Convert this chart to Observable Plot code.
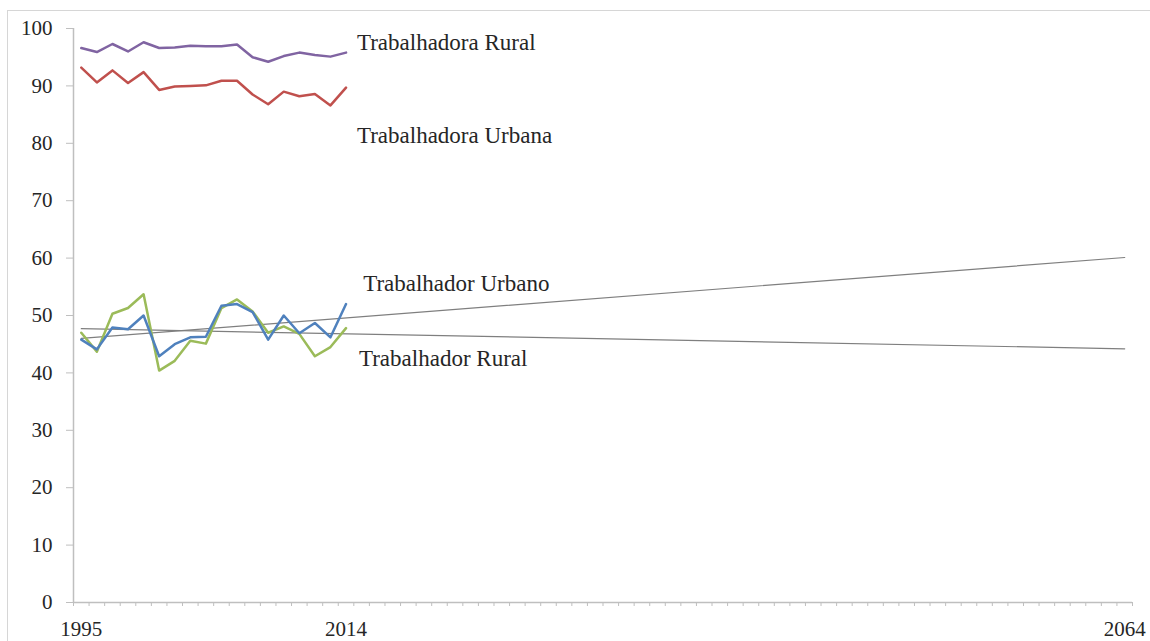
<!DOCTYPE html>
<html>
<head>
<meta charset="utf-8">
<script src="https://cdn.jsdelivr.net/npm/d3@7"></script>
<script src="https://cdn.jsdelivr.net/npm/@observablehq/plot@0.6"></script>
<style>
  html, body { margin: 0; padding: 0; background: #fff; width: 1150px; height: 641px; overflow: hidden; }
  #wrap { position: relative; width: 1150px; height: 641px; }
  #frame { position: absolute; left: 7px; top: 10px; width: 1150px; height: 641px;
           border-top: 1.5px solid #d6d6d6; border-left: 1.5px solid #d6d6d6; pointer-events: none; }
  #chart { position: absolute; left: 0; top: 0; }
</style>
</head>
<body>
<div id="wrap"><div id="chart"></div><div id="frame"></div></div>
<script>
// Survey years (PNAD, no survey in 2000 and 2010)
const surveyYears = [1995, 1996, 1997, 1998, 1999, 2001, 2002, 2003, 2004, 2005, 2006, 2007, 2008, 2009, 2011, 2012, 2013, 2014];
const projectionEnd = 2064;

// Series values (%)
const trabalhadoraRural  = [96.6, 95.9, 97.3, 96.0, 97.6, 96.6, 96.7, 97.0, 96.9, 96.9, 97.2, 95.0, 94.2, 95.2, 95.8, 95.4, 95.1, 95.8];
const trabalhadoraUrbana = [93.2, 90.6, 92.7, 90.5, 92.4, 89.3, 89.9, 90.0, 90.1, 90.9, 90.9, 88.5, 86.8, 89.0, 88.2, 88.6, 86.6, 89.7];
const trabalhadorUrbano  = [45.8, 44.1, 47.9, 47.6, 50.0, 42.9, 45.0, 46.2, 46.3, 51.7, 52.0, 50.6, 45.8, 50.0, 46.9, 48.7, 46.2, 52.0];
const trabalhadorRural   = [47.0, 43.7, 50.3, 51.3, 53.7, 40.4, 42.1, 45.6, 45.1, 51.3, 52.8, 50.7, 47.0, 48.1, 46.8, 42.9, 44.5, 47.8];

// Trend lines (start 1995, end 2064)
const trendYears   = [1995, 2064];
const trendUrbano  = [46.0, 60.1];
const trendRural   = [47.7, 44.2];

// Axis
const yTicks = [0, 10, 20, 30, 40, 50, 60, 70, 80, 90, 100];
const xTickLabels = [1995, 2014, 2064];

// Annotations
const labels = [
  {text: "Trabalhadora Rural",  year: 2014.70, value: 97.6},
  {text: "Trabalhadora Urbana", year: 2014.70, value: 81.4},
  {text: "Trabalhador Urbano",  year: 2015.10, value: 55.6},
  {text: "Trabalhador Rural",   year: 2014.83, value: 42.5}
];

// category index for a year (survey years, then yearly projection)
const lastSurvey = surveyYears[surveyYears.length - 1];
const idx = y => {
  const i = surveyYears.indexOf(y);
  if (i >= 0) return i;
  return surveyYears.length - 1 + (y - lastSurvey);
};
const nCat = idx(projectionEnd) + 1;

const toRows = (arr) => arr.map((v, i) => ({x: i, y: v}));
const trendRows = (arr) => arr.map((v, i) => ({x: idx(trendYears[i]), y: v}));

const boundaries = d3.range(nCat + 1).map(i => i - 0.5);

const font = "'Liberation Serif', 'DejaVu Serif', serif";
const axisGray = "#bfbfbf";

const chart = Plot.plot({
  width: 1150,
  height: 641,
  marginLeft: 73,
  marginRight: 18,
  marginTop: 28,
  marginBottom: 39,
  style: {fontFamily: font, fontSize: "21px", background: "transparent", color: "#262626"},
  x: {type: "linear", domain: [-0.5, nCat - 0.5]},
  y: {domain: [0, 100]},
  marks: [
    Plot.ruleX([-0.5], {y1: 0, y2: 100, stroke: axisGray, strokeWidth: 1.5}),
    Plot.ruleY([0], {x1: -0.5, x2: nCat - 0.5, stroke: axisGray, strokeWidth: 1.5}),
    Plot.axisY({ticks: yTicks, tickSize: 7, tickPadding: 14, stroke: axisGray, fill: "#262626", label: null, fontSize: 21}),
    Plot.axisX({ticks: boundaries, tickSize: 4, tickFormat: () => "", stroke: axisGray, label: null}),
    Plot.axisX({ticks: xTickLabels.map(idx), tickSize: 0, tickPadding: 19, tickFormat: i => String(xTickLabels[xTickLabels.map(idx).indexOf(i)]), fill: "#262626", label: null, fontSize: 21}),
    Plot.line(trendRows(trendUrbano), {x: "x", y: "y", stroke: "#7f7f7f", strokeWidth: 1.2}),
    Plot.line(trendRows(trendRural), {x: "x", y: "y", stroke: "#7f7f7f", strokeWidth: 1.2}),
    Plot.line(toRows(trabalhadoraRural), {x: "x", y: "y", stroke: "#8064A2", strokeWidth: 2.5}),
    Plot.line(toRows(trabalhadoraUrbana), {x: "x", y: "y", stroke: "#C0504D", strokeWidth: 2.5}),
    Plot.line(toRows(trabalhadorRural), {x: "x", y: "y", stroke: "#9BBB59", strokeWidth: 2.5}),
    Plot.line(toRows(trabalhadorUrbano), {x: "x", y: "y", stroke: "#4F81BD", strokeWidth: 2.5}),
    Plot.text(labels, {x: d => idx(lastSurvey) + (d.year - lastSurvey), y: "value", text: "text", textAnchor: "start", fontSize: 23, fill: "#262626"})
  ]
});
document.getElementById("chart").appendChild(chart);
</script>
</body>
</html>
